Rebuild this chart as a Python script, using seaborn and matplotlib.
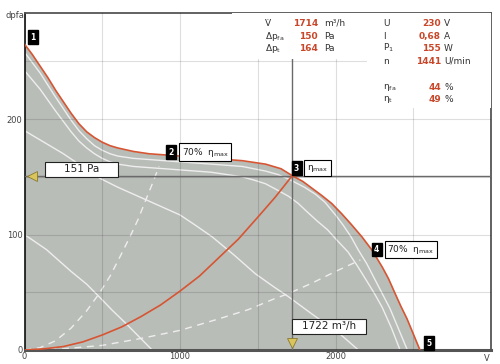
import numpy as np
import pandas as pd
import matplotlib
matplotlib.use('Agg')
import matplotlib.pyplot as plt
import seaborn as sns
from matplotlib.patches import Rectangle

# fan curve, full speed (red): airflow m3/h vs static pressure Pa
fan_q = [0, 50, 100, 150, 200, 250, 300, 350, 400, 450, 500, 550, 600, 700, 800, 1000,
         1200, 1400, 1550, 1650, 1722, 1790, 1850, 1910, 1975, 2040, 2100, 2170, 2232,
         2300, 2340, 2383, 2420, 2460, 2500, 2543]
fan_p = [265, 256, 246, 236, 225, 215, 205, 196, 189, 184, 180, 177, 175, 172, 170, 168,
         166, 164, 161, 157, 151, 146, 140, 134, 127, 118, 109, 98, 87,
         72, 62, 49, 38, 27, 14, 0]

# lower speed curves (white)
a_q = [0, 100, 200, 300, 350, 400, 450, 500, 550, 600, 700, 800, 1000, 1200, 1400,
       1550, 1630, 1700, 1800, 1870, 1932, 2000, 2050, 2100, 2145, 2200, 2250, 2300,
       2350, 2400, 2462]
a_p = [258, 240, 219, 199, 190, 183, 177, 173, 170, 168, 166, 165, 163, 161, 159,
       155, 152, 148, 141, 135, 128, 117, 108, 98, 87, 75, 62, 49,
       36, 20, 0]
b_q = [0, 100, 200, 300, 350, 400, 450, 500, 550, 600, 700, 800, 1000, 1200, 1400,
       1480, 1550, 1620, 1700, 1760, 1815, 1880, 1950, 2010, 2080, 2140, 2200, 2250,
       2300, 2360, 2415]
b_p = [242, 226, 207, 189, 181, 175, 170, 166, 163, 161, 159, 158, 156, 154, 150,
       147, 144, 139, 133, 127, 120, 112, 104, 95, 85, 73, 60, 49,
       37, 19, 0]
c_q = [0, 100, 250, 481, 600, 700, 800, 900, 1000, 1100, 1207, 1350, 1485, 1600,
       1699, 1850, 2019, 2147]
c_p = [190, 182, 170, 149, 141, 135, 129, 123, 117, 108, 98, 82, 66, 55,
       46, 31, 15, 0]
d_q = [0, 141, 300, 400, 481, 560, 652, 740, 821]
d_p = [100, 87, 68, 57, 46, 35, 23, 11, 0]

# 70% eta max system curves (dashed)
s1_q = [0, 100, 200, 300, 400, 481, 550, 600, 678, 730, 780, 825, 865]
s1_p = [0, 2, 8, 19, 34, 49, 64, 77, 98, 113, 130, 145, 159]
s2_q = [0, 250, 500, 750, 1000, 1250, 1440, 1600, 1700, 1850, 2000, 2160]
s2_p = [0, 1, 4, 10, 17, 27, 35, 44, 49, 58, 68, 78]

# system curve through operating point (red)
sys_q = [0, 125, 250, 375, 500, 625, 750, 875, 1000, 1125, 1250, 1375, 1500, 1610, 1722]
sys_p = [0, 1, 3, 7, 13, 20, 29, 39, 51, 64, 80, 96, 115, 132, 151]

op_q = 1722
op_p = 151

left_labels = ['V\u0307', 'Δp$_{\\mathregular{fa}}$', 'Δp$_{\\mathregular{t}}$']
left_values = ['1714', '150', '164']
left_units = ['m³/h', 'Pa', 'Pa']
right_labels = ['U', 'I', 'P$_{\\mathregular{1}}$', 'n', 'η$_{\\mathregular{fa}}$', 'η$_{\\mathregular{t}}$']
right_values = ['230', '0,68', '155', '1441', '44', '49']
right_units = ['V', 'A', 'W', 'U/min', '%', '%']

sns.set_theme(style='white')
plt.rcParams['font.family'] = ['DejaVu Sans']
plt.rcParams['mathtext.default'] = 'regular'

RED = '#d65533'
FILL = '#b9bdb8'
TXT = '#333333'
VAL = '#c8472a'

fig = plt.figure(figsize=(5, 3.64), dpi=100)
ax = fig.add_axes([0.049, 0.0385, 0.933, 0.926])

ax.fill_between(fan_q, fan_p, 0, color=FILL, lw=0, zorder=0.5)

def curve(q, p, color, lw=1.0, ls='-', z=2):
    df = pd.DataFrame({'q': q, 'p': p})
    sns.lineplot(data=df, x='q', y='p', sort=False, estimator=None, color=color,
                 lw=lw, linestyle=ls, ax=ax, zorder=z)

curve(d_q, d_p, '#eeeeee')
curve(c_q, c_p, '#eeeeee')
curve(b_q, b_p, '#eeeeee')
curve(a_q, a_p, '#eeeeee')
curve(s1_q, s1_p, '#eeeeee', ls=(0, (5, 4)))
curve(s2_q, s2_p, '#eeeeee', ls=(0, (5, 4)))
curve(sys_q, sys_p, RED, lw=1.2, z=3)
curve(fan_q, fan_p, RED, lw=1.2, z=3)

ax.set_xlim(0, 3000)
ax.set_ylim(0, 292)
ax.set_xticks([0, 1000, 2000])
ax.set_xticks([500, 1500, 2500], minor=True)
ax.set_yticks([0, 100, 200])
ax.set_yticks([50, 150, 250], minor=True)
ax.grid(which='both', color='black', alpha=0.13, lw=0.8)
ax.set_axisbelow(False)
ax.tick_params(which='both', length=0, labelsize=6, labelcolor='#444', pad=1.5)
ax.set_xlabel('')
ax.set_ylabel('')
for s in ['top', 'right']:
    ax.spines[s].set_color('#555')
    ax.spines[s].set_linewidth(1.3)
ax.spines['left'].set_color('#222')
ax.spines['left'].set_linewidth(1.3)
ax.spines['bottom'].set_color('#555')
ax.spines['bottom'].set_linewidth(2.2)

fig.text(0.012, 1 - 15 / 364, 'dpfa', fontsize=6, color='#444', va='center')
fig.text(0.968, 0.016, 'V', fontsize=6, color='#444', va='center')

# operating point lines
ax.axhline(op_p, color='#6a6a6a', lw=1, zorder=2.55)
ax.axvline(op_q, color='#6a6a6a', lw=1, zorder=2.55)

# white info panels
ax.add_patch(Rectangle((1336, 252), 2203 - 1336, 40, fc='white', ec='none', zorder=2.6))
ax.add_patch(Rectangle((2203, 210), 3000 - 2203, 82, fc='white', ec='none', zorder=2.6))

rows_l = [283, 272, 261.5]
for lab, val, unit, y in zip(left_labels, left_values, left_units, rows_l):
    ax.text(1547, y, lab, fontsize=6.5, color=TXT, va='center', zorder=5)
    ax.text(1887, y, val, fontsize=6.5, color=VAL, fontweight='bold', ha='right', va='center', zorder=5)
    ax.text(1926, y, unit, fontsize=6.5, color=TXT, va='center', zorder=5)
rows_r = [283, 272, 261.5, 250, 227, 217]
for lab, val, unit, y in zip(right_labels, right_values, right_units, rows_r):
    ax.text(2305, y, lab, fontsize=6.5, color=TXT, va='center', zorder=5)
    ax.text(2678, y, val, fontsize=6.5, color=VAL, fontweight='bold', ha='right', va='center', zorder=5)
    ax.text(2698, y, unit, fontsize=6.5, color=TXT, va='center', zorder=5)

def tag(x, y, num):
    ax.text(x, y, num, color='white', fontweight='bold', fontsize=5.5, ha='center', va='center',
            zorder=6, bbox=dict(boxstyle='square,pad=0.3', fc='black', ec='black'))

def note(x, y, txt):
    ax.text(x, y, txt, color='#222', fontsize=6.5, ha='left', va='center', zorder=6,
            bbox=dict(boxstyle='square,pad=0.25', fc='white', ec='black', lw=0.8))

eta = 'η$_{\\mathregular{max}}$'
tag(55, 271, '1')
tag(942, 171.5, '2')
note(1010, 171.5, '70%  ' + eta + ' ')
tag(1750, 157.5, '3')
note(1815, 157.5, eta + ' ')
tag(2265, 87, '4')
note(2330, 87, '70%  ' + eta + ' ')
tag(2601, 6, '5')

# operating point readouts
ax.add_patch(Rectangle((132, op_p - 1), 470, 13, fc='white', ec='#222', lw=0.8, zorder=6))
ax.text(366, op_p + 5.5, f'{op_p} Pa', fontsize=7.5, color='#222', ha='center', va='center', zorder=7)
ax.add_patch(Rectangle((op_q, 14), 476, 13, fc='white', ec='#222', lw=0.8, zorder=6))
ax.text(op_q + 238, 20.5, f'{op_q} m³/h', fontsize=7.5, color='#222', ha='center', va='center', zorder=7)
ax.plot([48], [op_p], marker='<', ms=7, color='#d9c55c', mec='#8a7a30', mew=0.6, zorder=7, clip_on=False)
ax.plot([op_q], [6], marker='v', ms=7, color='#d9c55c', mec='#8a7a30', mew=0.6, zorder=7, clip_on=False)

fig.savefig('out.png', dpi=100)
